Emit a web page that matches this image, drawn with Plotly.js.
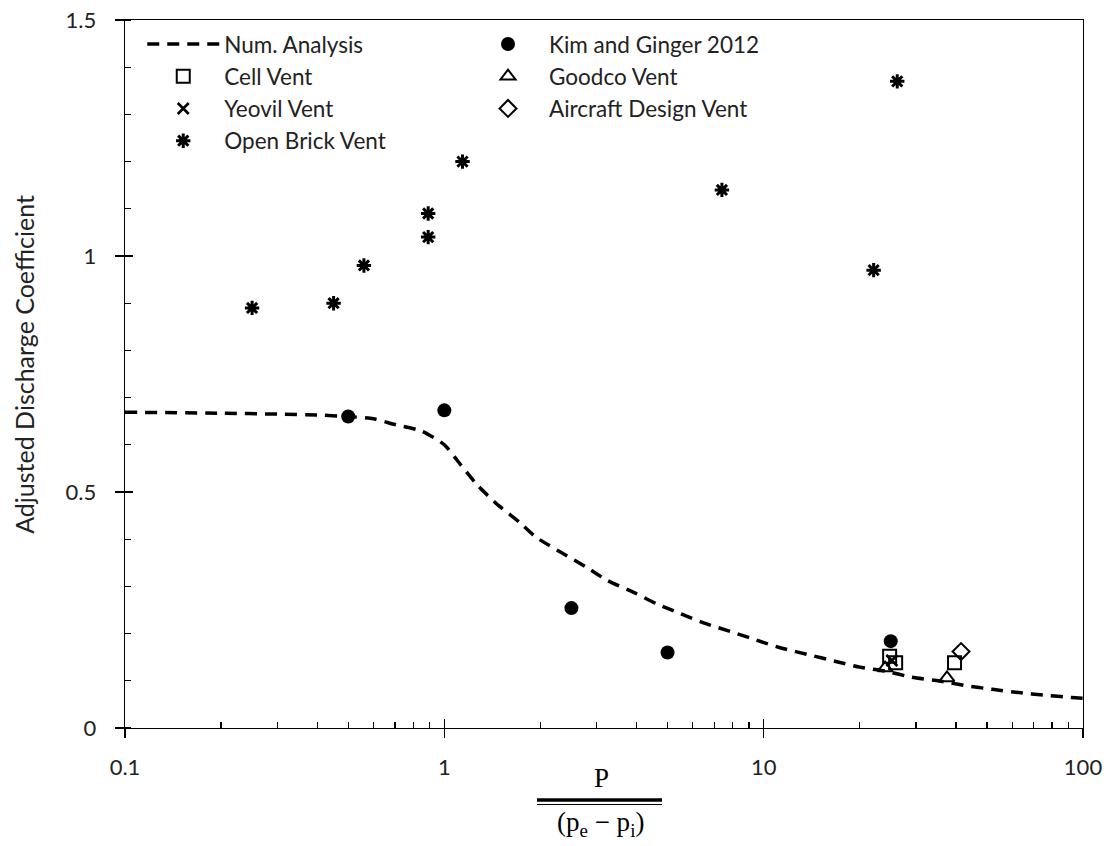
<!DOCTYPE html>
<html>
<head>
<meta charset="utf-8">
<script src="https://cdn.plot.ly/plotly-3.0.1.min.js"></script>
<style>
  html, body { margin: 0; padding: 0; background: #fff; }
  #chart { width: 1115px; height: 846px; }
</style>
</head>
<body>
<div id="chart"></div>
<script>
// Numerical analysis curve (dashed)
const numX = [0.1, 0.2, 0.3, 0.4, 0.5, 0.6, 0.7, 0.85, 1.0, 1.13, 1.28, 1.48, 1.72, 1.93,
              2.78, 3.25, 3.9, 4.63, 5.5, 6.6, 8, 9.5, 11.4, 13.9, 16.7, 20, 24.3, 29,
              35.5, 43, 52, 63, 76, 92, 100];
const numY = [0.669, 0.667, 0.665, 0.663, 0.660, 0.655, 0.643, 0.629, 0.600, 0.556, 0.512, 0.471, 0.436, 0.405,
              0.341, 0.312, 0.288, 0.263, 0.242, 0.221, 0.203, 0.186, 0.169, 0.155, 0.1415, 0.129, 0.120, 0.1076,
              0.0996, 0.0896, 0.082, 0.075, 0.0695, 0.0646, 0.063];

// Kim and Ginger 2012
const kimX = [0.5, 1.0, 2.5, 5.0, 25];
const kimY = [0.660, 0.673, 0.254, 0.160, 0.184];

// Cell Vent
const cellX = [24.8, 25.9, 39.6];
const cellY = [0.152, 0.138, 0.138];

// Goodco Vent
const goodcoX = [24.0, 37.5];
const goodcoY = [0.127, 0.106];

// Yeovil Vent
const yeovilX = [25.2];
const yeovilY = [0.143];

// Aircraft Design Vent
const aircraftX = [41.5];
const aircraftY = [0.162];

// Open Brick Vent
const brickX = [0.25, 0.45, 0.56, 0.89, 0.89, 1.14, 7.4, 22.1, 26.2];
const brickY = [0.89, 0.90, 0.98, 1.09, 1.04, 1.20, 1.14, 0.97, 1.37];

// Axis ticks
const xMajor = [0.1, 1, 10, 100];
const xMajorText = ['0.1', '1', '10', '100'];
const xMinor = [0.2, 0.3, 0.4, 0.5, 0.6, 0.7, 0.8, 0.9,
                2, 3, 4, 5, 6, 7, 8, 9,
                20, 30, 40, 50, 60, 70, 80, 90];
const yMajor = [0, 0.5, 1, 1.5];
const yMajorText = ['0', '0.5', '1', '1.5'];

const ink = '#000000';
const textColor = '#222222';
const uiFont = 'Lato, "Open Sans", sans-serif';
const mathFont = '"Liberation Serif", "DejaVu Serif", serif';

const traces = [
  { x: numX, y: numY, name: 'Num. Analysis', type: 'scatter', mode: 'lines',
    line: { color: ink, width: 3.5, dash: '12px,8px', shape: 'spline', smoothing: 0.6 },
    legend: 'legend' },
  { x: cellX, y: cellY, name: 'Cell Vent', type: 'scatter', mode: 'markers',
    marker: { symbol: 'square-open', size: 13, color: ink, line: { width: 2, color: ink } },
    legend: 'legend' },
  { x: yeovilX, y: yeovilY, name: 'Yeovil Vent', type: 'scatter', mode: 'markers',
    marker: { symbol: 'x-thin-open', size: 11, color: ink, line: { width: 2.6, color: ink } },
    legend: 'legend' },
  { x: brickX, y: brickY, name: 'Open Brick Vent', type: 'scatter', mode: 'markers',
    marker: { symbol: 'asterisk-open', size: 12, color: ink, line: { width: 3, color: ink } },
    legend: 'legend' },
  { x: kimX, y: kimY, name: 'Kim and Ginger 2012', type: 'scatter', mode: 'markers',
    marker: { symbol: 'circle', size: 14, color: ink },
    legend: 'legend2' },
  { x: goodcoX, y: goodcoY, name: 'Goodco Vent', type: 'scatter', mode: 'markers',
    marker: { symbol: 'triangle-up-open', size: 13, color: ink, line: { width: 2, color: ink } },
    legend: 'legend2' },
  { x: aircraftX, y: aircraftY, name: 'Aircraft Design Vent', type: 'scatter', mode: 'markers',
    marker: { symbol: 'diamond-open', size: 13, color: ink, line: { width: 2, color: ink } },
    legend: 'legend2' },
  // carrier for the overlay axes that draw the inner half of the major ticks
  { x: [], y: [], xaxis: 'x2', yaxis: 'y2', type: 'scatter', mode: 'markers',
    showlegend: false, hoverinfo: 'skip' }
];

const legendCommon = {
  orientation: 'v', xanchor: 'left', yanchor: 'top',
  bgcolor: 'rgba(0,0,0,0)', borderwidth: 0, itemwidth: 72,
  traceorder: 'normal', font: { family: uiFont, size: 22.5, color: textColor }
};

const layout = {
  width: 1115, height: 846,
  margin: { l: 125, r: 32, t: 20, b: 118 },
  paper_bgcolor: '#ffffff', plot_bgcolor: '#ffffff',
  showlegend: true,
  font: { family: uiFont, size: 22, color: textColor },
  xaxis: {
    type: 'log', range: [-1, 2],
    tickmode: 'array', tickvals: xMajor, ticktext: xMajorText,
    ticks: 'outside', ticklen: 9, tickwidth: 1.3, tickcolor: ink,
    ticklabelstandoff: 10,
    minor: { tickmode: 'array', tickvals: xMinor, ticks: 'inside', ticklen: 6,
             tickwidth: 1.3, tickcolor: ink, showgrid: false },
    showline: true, linecolor: ink, linewidth: 1.3, mirror: true,
    showgrid: false, zeroline: false,
    tickfont: { family: uiFont, size: 22, color: textColor }
  },
  xaxis2: {
    type: 'log', range: [-1, 2], overlaying: 'x', anchor: 'y', side: 'bottom',
    tickmode: 'array', tickvals: xMajor,
    ticks: 'inside', ticklen: 9, tickwidth: 1.3, tickcolor: ink,
    showticklabels: false, showline: false, showgrid: false, zeroline: false
  },
  yaxis: {
    range: [0, 1.5],
    tickmode: 'array', tickvals: yMajor, ticktext: yMajorText,
    ticks: 'outside', ticklen: 9, tickwidth: 1.3, tickcolor: ink,
    ticklabelstandoff: 14,
    minor: { dtick: 0.1, tick0: 0, ticks: 'inside', ticklen: 6,
             tickwidth: 1.3, tickcolor: ink, showgrid: false },
    showline: true, linecolor: ink, linewidth: 1.3, mirror: true,
    showgrid: false, zeroline: false,
    tickfont: { family: uiFont, size: 22, color: textColor }
  },
  yaxis2: {
    range: [0, 1.5], overlaying: 'y', anchor: 'x', side: 'left',
    tickmode: 'array', tickvals: yMajor,
    ticks: 'inside', ticklen: 8, tickwidth: 1.3, tickcolor: ink,
    showticklabels: false, showline: false, showgrid: false, zeroline: false
  },
  legend: Object.assign({}, legendCommon, { x: 0.018, y: 0.996 }),
  legend2: Object.assign({}, legendCommon, { x: 0.357, y: 0.996 }),
  annotations: [
    { // y axis title
      text: 'Adjusted Discharge Coefficient', textangle: -90,
      xref: 'paper', yref: 'paper', x: 0, y: 0.513, xanchor: 'center', yanchor: 'middle',
      xshift: -101, showarrow: false,
      font: { family: uiFont, size: 25, color: textColor }
    },
    { // fraction numerator
      text: 'P', xref: 'paper', yref: 'paper', x: 0.5, y: 0,
      xanchor: 'center', yanchor: 'middle', xshift: -3, yshift: -50, showarrow: false,
      font: { family: mathFont, size: 27, color: ink }
    },
    { // fraction denominator
      text: '(p<sub>e</sub> − p<sub>i</sub>)', xref: 'paper', yref: 'paper', x: 0.5, y: 0,
      xanchor: 'center', yanchor: 'middle', xshift: -4, yshift: -96, showarrow: false,
      font: { family: mathFont, size: 27, color: ink }
    }
  ],
  shapes: [
    { // fraction bar (thick)
      type: 'line', xref: 'paper', yref: 'paper',
      xsizemode: 'pixel', ysizemode: 'pixel', xanchor: 0.5, yanchor: 0,
      x0: -67, x1: 58, y0: -72, y1: -72,
      line: { color: ink, width: 3.5 }
    },
    { // fraction bar (thin underline)
      type: 'line', xref: 'paper', yref: 'paper',
      xsizemode: 'pixel', ysizemode: 'pixel', xanchor: 0.5, yanchor: 0,
      x0: -67, x1: 58, y0: -76.5, y1: -76.5,
      line: { color: ink, width: 1 }
    }
  ]
};

Plotly.newPlot('chart', traces, layout, { displayModeBar: false, staticPlot: true });
</script>
</body>
</html>
